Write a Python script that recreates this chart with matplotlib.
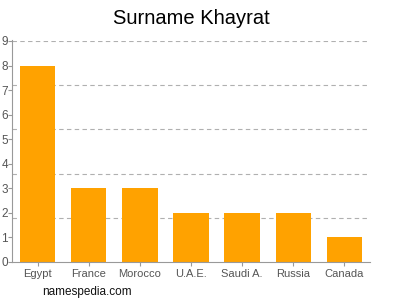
import matplotlib
matplotlib.use('Agg')
import matplotlib.pyplot as plt

countries = ['Egypt', 'France', 'Morocco', 'U.A.E.', 'Saudi A.', 'Russia', 'Canada']
counts = [8, 3, 3, 2, 2, 2, 1]
y_ticks = list(range(0, 10))
grid_levels = [1.8, 3.6, 5.4, 7.2, 9.0]


def main():
    plt.rcParams['font.family'] = ['Liberation Sans', 'DejaVu Sans']

    fig = plt.figure(figsize=(4, 3), dpi=100)
    ax = fig.add_axes([0.03, 0.127, 0.895, 0.738])

    ax.bar(range(len(countries)), counts, width=0.69, color='#FFA200', zorder=2)

    ax.set_xlim(-0.5, len(countries) - 0.5)
    ax.set_ylim(0, 9.02)
    ax.set_xticks(range(len(countries)))
    ax.set_xticklabels(countries)
    ax.set_yticks(y_ticks)

    # dashed grid does not follow the integer ticks
    # (keep the minor line at 9 even though a major tick sits there)
    ax.yaxis.remove_overlapping_locs = False
    ax.set_yticks(grid_levels, minor=True)
    ax.grid(axis='y', which='minor', linestyle=(0, (4, 3)), color='#b0b0b0', linewidth=0.8)
    ax.tick_params(axis='y', which='minor', length=0)

    for side in ['top', 'right']:
        ax.spines[side].set_visible(False)
    for side in ['left', 'bottom']:
        ax.spines[side].set_color('#999999')
    ax.tick_params(axis='both', which='major', colors='#999999', labelcolor='#555555',
                   labelsize=8, length=3, pad=2)
    ax.tick_params(axis='y', which='major', pad=0, labelsize=8.5)

    ax.set_title('Surname Khayrat', fontsize=14.5, pad=12)
    fig.text(0.105, 0.015, 'namespedia.com', fontsize=8.5, color='#111111')

    fig.savefig('out.png')


if __name__ == '__main__':
    main()
